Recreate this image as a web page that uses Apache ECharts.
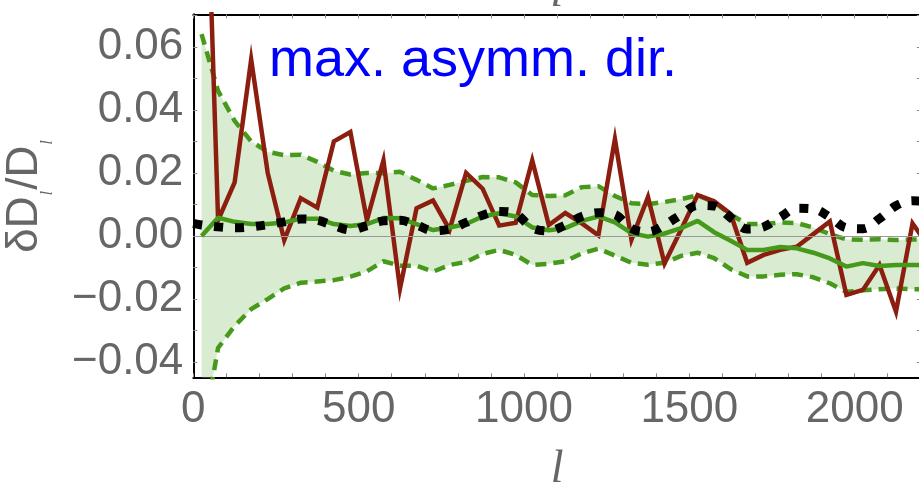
<!DOCTYPE html>
<html>
<head>
<meta charset="utf-8">
<script src="https://cdn.jsdelivr.net/npm/echarts@6/dist/echarts.min.js"></script>
<style>
  html, body { margin: 0; padding: 0; background: #ffffff; }
  #chart { width: 919px; height: 489px; }
</style>
</head>
<body>
<div id="chart"></div>
<script>
// Multipole l of each band (bins of width 50)
const ell = [25, 75, 125, 175, 225, 275, 325, 375, 425, 475,
             525, 575, 625, 675, 725, 775, 825, 875, 925, 975,
             1025, 1075, 1125, 1175, 1225, 1275, 1325, 1375, 1425, 1475,
             1525, 1575, 1625, 1675, 1725, 1775, 1825, 1875, 1925, 1975,
             2025, 2075, 2125, 2175, 2225];

// Measured relative difference (dark red)
const measured = [0.170, 0.005, 0.017, 0.056, 0.020, -0.0013, 0.012, 0.009, 0.030, 0.033,
                  0.005, 0.024, -0.0167, 0.0088, 0.0113, 0.002, 0.020, 0.015, 0.0033, 0.0042,
                  0.024, 0.0035, 0.0073, 0.004, 0.0002, 0.0307, -0.0012, 0.0124, -0.0087, 0.002,
                  0.013, 0.011, 0.007, -0.0085, -0.006, -0.0044, -0.0034, 0.0006, 0.0046, -0.0187,
                  -0.0171, -0.0092, -0.024, 0.004, -0.0035];

// Simulation mean (solid green) and its spread (dashed green, shaded band)
const simMean = [0, 0.0058, 0.0045, 0.0038, 0.0038, 0.0043, 0.0055, 0.0055, 0.0038, 0.0032,
                 0.0038, 0.0057, 0.0056, 0.0038, 0.0019, 0.0027, 0.0038, 0.0062, 0.0072, 0.0062,
                 0.0027, 0.0018, 0.0025, 0.0048, 0.0062, 0.0043, 0.0009, -0.0002, 0.0008, 0.0025,
                 0.0048, 0.0012, -0.0015, -0.0044, -0.0044, -0.0035, -0.0039, -0.0053, -0.0071, -0.0097,
                 -0.0086, -0.0095, -0.0092, -0.0092, -0.0092];

const simUpper = [0.064, 0.046, 0.0365, 0.030, 0.0267, 0.0256, 0.0258, 0.0235, 0.0207, 0.0195,
                  0.020, 0.0199, 0.0204, 0.0178, 0.0151, 0.0162, 0.0175, 0.0187, 0.0186, 0.0170,
                  0.013, 0.0127, 0.0129, 0.0155, 0.0158, 0.0127, 0.0104, 0.0101, 0.0108, 0.0117,
                  0.0129, 0.0107, 0.0068, 0.0038, 0.0038, 0.0043, 0.0041, 0.0027, 0.0006, -0.0011,
                  -0.0012, -0.0010, -0.0013, -0.0011, -0.0011];

const simLower = [-0.065, -0.0355, -0.0285, -0.0232, -0.0200, -0.0166, -0.0148, -0.0144, -0.0140, -0.0129,
                  -0.0112, -0.0080, -0.0094, -0.0094, -0.0113, -0.0092, -0.0082, -0.0057, -0.0044, -0.0060,
                  -0.0092, -0.0088, -0.0080, -0.0055, -0.0040, -0.0062, -0.0085, -0.0091, -0.0085, -0.0063,
                  -0.0053, -0.0070, -0.0105, -0.0128, -0.0128, -0.0123, -0.0121, -0.0131, -0.0150, -0.0177,
                  -0.0172, -0.0169, -0.0166, -0.0169, -0.0169];

// Expected modulation (black dotted); first point sits at the left edge
const modulationStart = [0, 0.0040];
const modulation = [0.0035, 0.0029, 0.0026, 0.0029, 0.0036, 0.0045, 0.0054, 0.0050, 0.0033, 0.0019,
                    0.0033, 0.0048, 0.0050, 0.0035, 0.0017, 0.0022, 0.0043, 0.0066, 0.0078, 0.0070,
                    0.0026, 0.0016, 0.0035, 0.0062, 0.0074, 0.0068, 0.0024, 0.0013, 0.0035, 0.0068,
                    0.0097, 0.0095, 0.0058, 0.0022, 0.0029, 0.0060, 0.0088, 0.0086, 0.0060, 0.0026,
                    0.0023, 0.0055, 0.0096, 0.0112, 0.0108];

// Axis ticks and labels
const xTickLabels = [0, 500, 1000, 1500, 2000];
const xTickMarks = [0, 100, 200, 300, 400, 500, 600, 700, 800, 900, 1000, 1100,
                    1200, 1300, 1400, 1500, 1600, 1700, 1800, 1900, 2000, 2100];
const yTickLabels = [-0.04, -0.02, 0, 0.02, 0.04, 0.06];
const yTickMarks = [-0.04, -0.03, -0.02, -0.01, 0, 0.01, 0.02, 0.03, 0.04, 0.05, 0.06, 0.07];

const X_MIN = 0, X_MAX = 2200;
const Y_MIN = -0.0448, Y_MAX = 0.0703;

const GREEN = '#46991a';
const RED = '#8c1e0f';
const BAND = '#d9ebd0';
const GRAY_TEXT = '#666666';
const TICK = '#8a8a8a';
const SANS = '"Liberation Sans", Arial, sans-serif';
const SERIF = '"Liberation Serif", "Times New Roman", serif';

const pairs = vals => ell.map((l, i) => [l, vals[i]]);

const chart = echarts.init(document.getElementById('chart'), null, { renderer: 'canvas' });

const xCommon = {
  type: 'value', min: X_MIN, max: X_MAX,
  axisLine: { show: true, onZero: false, lineStyle: { color: '#000', width: 2 } },
  axisTick: { show: true, inside: true, length: 4, customValues: xTickMarks,
              lineStyle: { color: TICK, width: 1 } },
  splitLine: { show: false }
};
const yCommon = {
  type: 'value', min: Y_MIN, max: Y_MAX,
  axisLine: { show: true, onZero: false, lineStyle: { color: '#000', width: 2 } },
  axisTick: { show: true, inside: true, length: 4, customValues: yTickMarks,
              lineStyle: { color: TICK, width: 1 } },
  splitLine: { show: false }
};

// Shaded spread: one polygon through the upper curve and back along the lower one
function renderBand(params, api) {
  if (params.dataIndex !== 0) return null;
  const top = ell.map((l, i) => api.coord([l, simUpper[i]]));
  const bottom = ell.map((l, i) => api.coord([l, simLower[i]])).reverse();
  return {
    type: 'polygon',
    shape: { points: top.concat(bottom) },
    style: { fill: BAND },
    silent: true
  };
}

chart.setOption({
  animation: false,
  backgroundColor: '#ffffff',
  grid: { left: 193.3, top: 14.3, width: 727.5, height: 363, containLabel: false, outerBoundsMode: 'none' },
  xAxis: [
    Object.assign({}, xCommon, {
      position: 'bottom',
      axisLabel: { show: true, customValues: xTickLabels, margin: 11,
                   fontFamily: SANS, fontSize: 44, color: GRAY_TEXT,
                   formatter: v => String(v) },
      name: 'l', nameLocation: 'middle', nameGap: 70,
      nameTextStyle: { fontFamily: SERIF, fontStyle: 'italic', fontSize: 46, color: GRAY_TEXT }
    }),
    Object.assign({}, xCommon, {
      position: 'top',
      axisLabel: { show: false }
    })
  ],
  yAxis: [
    Object.assign({}, yCommon, {
      position: 'left',
      axisLabel: { show: true, customValues: yTickLabels, margin: 10,
                   fontFamily: SANS, fontSize: 44, color: GRAY_TEXT,
                   formatter: v => (v < -1e-9 ? '\u2212' : '') + Math.abs(v).toFixed(2) },
      name: '{a|\u03b4D}{s|l}{a|/D}{s|l}',
      nameLocation: 'middle', nameRotate: 90, nameGap: 141,
      nameTextStyle: {
        rich: {
          a: { fontFamily: SANS, fontSize: 44, color: GRAY_TEXT, lineHeight: 54 },
          s: { fontFamily: SERIF, fontStyle: 'italic', fontSize: 17, color: GRAY_TEXT,
               lineHeight: 17, padding: [44, 1, 0, 1] }
        }
      }
    }),
    Object.assign({}, yCommon, {
      position: 'right',
      axisLabel: { show: false }
    })
  ],
  graphic: [
    {
      type: 'text', silent: true, z: 100,
      style: { text: 'max. asymm. dir.', x: 269, y: 61, fill: '#0000ff',
               font: '54px ' + SANS, align: 'left', verticalAlign: 'middle' }
    },
    {
      type: 'text', silent: true, z: 100,
      style: { text: 'l', x: 557, y: -6, fill: GRAY_TEXT,
               font: 'italic 46px ' + SERIF, align: 'center', verticalAlign: 'middle' }
    }
  ],
  series: [
    {
      type: 'custom', name: 'band', renderItem: renderBand, clip: true, z: 1, silent: true,
      data: ell.map((l, i) => [l, simUpper[i], simLower[i]]),
      encode: { x: 0, y: [1, 2] }
    },
    {
      type: 'line', name: 'upper', data: pairs(simUpper), symbol: 'none', z: 3,
      lineStyle: { color: GREEN, width: 4.5, type: [11, 7] },
      markLine: {
        silent: true, symbol: 'none', label: { show: false },
        lineStyle: { color: '#999999', width: 1, type: 'solid' },
        data: [{ yAxis: 0 }]
      }
    },
    {
      type: 'line', name: 'lower', data: pairs(simLower), symbol: 'none', z: 3,
      lineStyle: { color: GREEN, width: 4.5, type: [11, 7] }
    },
    {
      type: 'line', name: 'measured', data: pairs(measured), symbol: 'none', z: 4,
      lineStyle: { color: RED, width: 4.5, join: 'miter' }
    },
    {
      type: 'line', name: 'mean', data: pairs(simMean), symbol: 'none', z: 5,
      lineStyle: { color: GREEN, width: 4.5 }
    },
    {
      type: 'line', name: 'modulation', data: [modulationStart].concat(pairs(modulation)),
      symbol: 'none', z: 6, smooth: 0.35,
      lineStyle: { color: '#000000', width: 9, type: [9, 12], cap: 'butt' }
    }
  ]
});
</script>
</body>
</html>
